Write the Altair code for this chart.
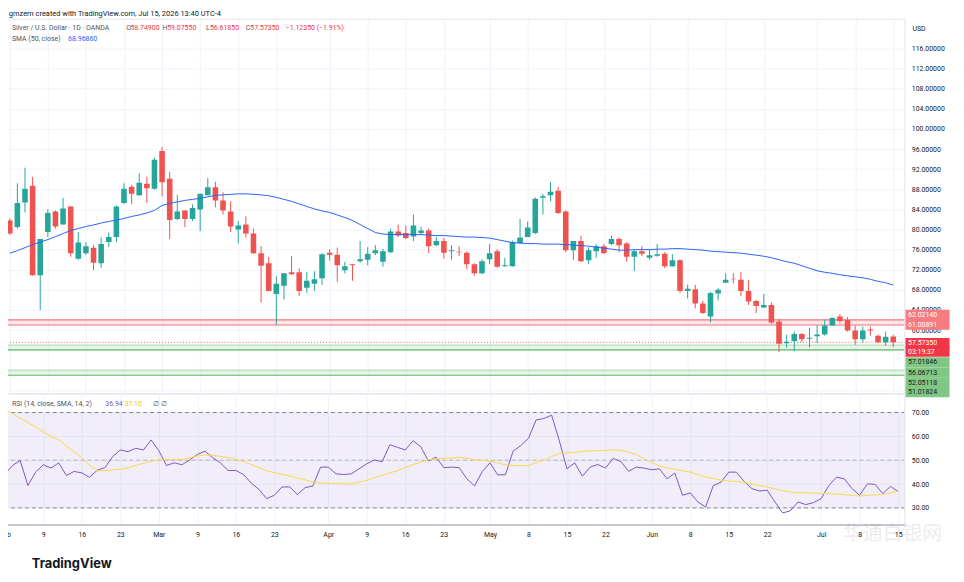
import json
import altair as alt
import numpy as np
import pandas as pd

# ---------------- data ----------------
opens = [81.8, 80.5, 85.4, 88.7, 70.9, 79.5, 83.6, 81.0, 84.6, 74.2,
         75.3, 76.4, 73.3, 77.5, 78.5, 85.3, 88.5, 86.8, 89.1, 88.1,
         95.6, 90.1, 82.1, 83.8, 82.1, 84.0, 86.8, 88.4, 85.8, 83.6,
         80.0, 81.0, 79.2, 75.3, 73.3, 67.2, 68.8, 71.5, 71.5, 68.4,
         69.2, 70.3, 75.4, 75.0, 71.9, 73.1, 73.7, 74.0, 75.3, 73.6,
         75.5, 79.6, 79.3, 78.6, 79.3, 79.8, 76.9, 77.7, 75.7, 75.6,
         75.4, 73.1, 71.3, 74.1, 75.7, 72.7, 72.7, 77.3, 78.5, 79.3,
         86.3, 86.8, 87.7, 83.6, 75.9, 77.7, 73.9, 75.7, 76.7, 77.1,
         78.1, 77.2, 74.6, 75.7, 74.4, 74.8, 75.2, 72.7, 73.9, 67.8,
         68.1, 65.3, 62.7, 67.3, 69.4, 70.2, 70.0, 67.8, 65.8, 64.5,
         65.0, 61.7, 57.4, 57.8, 59.2, 58.3, 58.8, 59.1, 60.9, 62.7,
         62.0, 59.9, 58.2, 60.1, 58.9, 57.6, 58.749]
highs = [82.2, 89.2, 92.3, 90.5, 78.1, 84.0, 83.8, 86.3, 84.6, 79.5,
         77.5, 76.9, 78.4, 79.4, 84.8, 89.2, 88.9, 91.2, 90.5, 94.3,
         96.4, 91.5, 86.9, 83.8, 85.0, 87.1, 90.2, 89.5, 87.4, 85.6,
         81.7, 82.6, 80.2, 76.7, 74.6, 70.7, 71.3, 74.7, 72.3, 71.6,
         71.7, 75.3, 76.1, 76.4, 73.6, 73.1, 77.7, 76.5, 76.9, 76.1,
         80.2, 81.0, 80.8, 83.0, 80.6, 80.2, 78.6, 78.4, 76.9, 76.7,
         75.7, 73.3, 74.1, 77.1, 76.1, 74.4, 77.8, 82.1, 81.6, 86.4,
         87.1, 89.5, 88.5, 83.8, 77.7, 78.8, 76.5, 77.1, 77.1, 78.8,
         78.5, 77.5, 76.0, 76.7, 76.0, 77.1, 75.5, 75.1, 74.1, 69.0,
         69.0, 65.8, 67.6, 68.4, 71.3, 71.3, 71.6, 70.0, 66.0, 67.2,
         65.5, 62.2, 59.1, 59.7, 59.4, 60.5, 60.9, 62.0, 62.5, 63.2,
         62.6, 60.9, 60.7, 60.7, 59.1, 59.7, 59.0755]
lows = [78.9, 80.2, 83.4, 70.8, 64.0, 78.5, 80.2, 81.0, 74.6, 74.0,
        74.9, 71.9, 72.4, 76.5, 77.5, 85.1, 85.1, 86.7, 85.3, 87.9,
        86.6, 78.1, 81.9, 80.5, 81.7, 79.7, 86.8, 84.4, 83.0, 79.5,
        77.2, 78.4, 75.2, 65.5, 67.8, 61.1, 66.1, 71.0, 66.8, 67.4,
        67.8, 69.0, 73.8, 69.6, 71.3, 69.8, 73.4, 72.9, 74.9, 72.6,
        75.3, 78.5, 78.1, 77.7, 79.1, 75.3, 76.7, 74.2, 74.0, 74.7,
        72.1, 70.8, 71.1, 73.1, 72.4, 72.6, 72.6, 77.1, 78.5, 79.1,
        83.0, 85.6, 83.1, 75.5, 73.9, 73.6, 73.1, 74.4, 75.2, 76.9,
        75.5, 73.6, 71.8, 74.7, 74.0, 74.6, 72.3, 72.6, 67.4, 66.3,
        64.3, 63.2, 61.5, 65.9, 69.4, 69.3, 66.8, 65.0, 63.4, 64.4,
        61.3, 55.6, 56.5, 55.8, 57.6, 56.6, 57.4, 58.9, 60.9, 61.4,
        59.7, 57.1, 57.6, 58.9, 57.4, 56.9, 56.6185]
closes = [79.2, 85.3, 88.1, 70.9, 78.1, 83.3, 80.6, 84.2, 75.3, 77.4,
          76.7, 73.4, 77.1, 78.5, 84.6, 88.1, 87.1, 89.3, 88.2, 93.9,
          89.4, 81.9, 83.6, 82.1, 84.3, 87.1, 88.4, 85.8, 83.8, 80.6,
          80.8, 79.2, 75.3, 72.8, 67.8, 69.2, 71.3, 71.1, 67.8, 69.8,
          70.1, 75.1, 75.0, 72.9, 72.7, 72.9, 74.1, 75.2, 75.9, 75.7,
          79.6, 78.8, 78.3, 80.8, 79.8, 76.7, 77.7, 75.4, 75.9, 75.5,
          73.1, 71.3, 73.7, 75.3, 72.6, 72.9, 77.5, 78.4, 80.4, 86.1,
          86.6, 87.5, 83.3, 75.9, 77.7, 73.7, 75.9, 76.7, 75.3, 78.1,
          76.9, 74.6, 75.7, 75.2, 74.9, 75.1, 72.7, 73.9, 67.8, 68.2,
          65.3, 63.4, 67.4, 68.0, 70.0, 70.1, 67.8, 65.7, 64.8, 65.0,
          61.5, 57.3, 57.7, 59.2, 58.2, 58.5, 59.1, 60.9, 62.4, 61.8,
          59.9, 58.2, 59.9, 59.9, 57.6, 58.7, 57.5735]
sma50 = [75.3, 75.8, 76.4, 77.0, 77.5, 78.0, 78.6, 79.2, 79.8, 80.2,
         80.6, 80.9, 81.3, 81.6, 81.9, 82.2, 82.6, 82.9, 83.3, 83.8,
         84.8, 85.2, 85.5, 85.8, 86.0, 86.2, 86.5, 86.8, 86.9, 87.0,
         87.1, 87.1, 87.0, 86.9, 86.7, 86.4, 86.0, 85.6, 85.1, 84.6,
         84.1, 83.7, 83.4, 82.9, 82.4, 81.8, 81.0, 80.2, 79.4, 79.1,
         79.0, 79.0, 79.0, 79.0, 79.0, 78.9, 78.8, 78.8, 78.7, 78.6,
         78.5, 78.5, 78.4, 78.3, 78.0, 77.7, 77.4, 77.3, 77.2, 77.2,
         77.1, 77.1, 77.1, 77.0, 76.9, 76.8, 76.7, 76.5, 76.3, 76.1,
         75.9, 75.9, 76.0, 76.0, 76.0, 76.1, 76.1, 76.2, 76.2, 76.1,
         76.0, 75.9, 75.7, 75.6, 75.5, 75.4, 75.3, 75.1, 74.9, 74.7,
         74.4, 74.0, 73.6, 73.3, 72.8, 72.3, 71.8, 71.5, 71.3, 71.0,
         70.8, 70.6, 70.4, 70.1, 69.7, 69.4, 68.97]
rsi14 = [44.0, 47.8, 49.9, 39.4, 45.0, 48.1, 46.7, 48.9, 43.6, 45.3,
         44.7, 42.8, 45.8, 46.9, 51.5, 54.3, 53.6, 55.0, 54.3, 58.5,
         54.0, 47.8, 48.9, 48.1, 50.1, 52.4, 53.8, 51.0, 48.9, 45.7,
         45.7, 44.0, 40.4, 37.8, 33.9, 35.3, 38.8, 38.8, 35.6, 38.5,
         39.2, 47.1, 47.1, 44.3, 44.0, 44.3, 46.4, 48.5, 50.1, 49.4,
         56.5, 55.4, 54.3, 58.2, 55.7, 49.7, 51.3, 46.9, 47.1, 46.9,
         42.2, 39.2, 45.3, 48.9, 43.9, 43.9, 53.8, 56.1, 59.2, 66.9,
         67.5, 68.9, 58.2, 46.4, 48.9, 43.3, 47.1, 48.2, 46.7, 50.8,
         49.4, 45.4, 47.1, 46.7, 46.0, 46.4, 42.2, 44.6, 35.3, 36.3,
         32.5, 30.4, 39.4, 40.8, 45.0, 45.0, 41.1, 38.1, 37.1, 37.4,
         32.5, 27.9, 28.8, 32.5, 31.4, 32.2, 33.9, 39.4, 42.9, 42.2,
         38.1, 35.3, 40.1, 39.9, 36.0, 39.0, 36.94]
rsi_ma = [71.5, 69.6, 67.6, 65.8, 63.9, 61.9, 60.0, 58.6, 56.0, 53.5,
          51.0, 48.0, 45.6, 45.6, 45.9, 46.3, 46.8, 47.8, 48.7, 49.6,
          50.1, 50.2, 50.3, 50.4, 51.0, 51.8, 52.2, 52.1, 51.6, 51.0,
          50.4, 49.4, 48.2, 46.9, 45.6, 44.8, 44.1, 43.4, 42.6, 41.8,
          40.9, 40.5, 40.3, 40.2, 40.1, 40.1, 40.8, 41.6, 42.6, 43.7,
          44.7, 45.6, 46.9, 48.1, 49.2, 50.2, 50.6, 50.8, 50.9, 51.2,
          50.8, 50.2, 50.0, 49.6, 48.9, 48.1, 47.8, 47.8, 47.8, 49.0,
          50.1, 51.6, 52.7, 53.1, 53.3, 53.7, 53.9, 54.0, 54.1, 54.4,
          54.2, 53.4, 52.4, 50.6, 49.1, 47.6, 46.7, 46.2, 45.6, 45.0,
          44.0, 43.0, 42.3, 41.6, 41.3, 41.1, 40.8, 40.1, 39.4, 38.7,
          38.0, 37.2, 36.7, 36.4, 36.3, 36.2, 36.1, 36.0, 35.8, 35.6,
          35.2, 35.0, 35.3, 35.5, 35.7, 36.3, 37.10]

tick_idx = [0, 5, 10, 15, 20, 25, 30, 35, 42, 47, 52, 57, 63, 68, 73, 78,
            84, 89, 94, 99, 106, 111, 116]
tick_text = ["Feb", "9", "16", "23", "Mar", "9", "16", "23", "Apr", "9", "16",
             "23", "May", "8", "15", "22", "Jun", "8", "15", "22", "Jul", "8", "15"]
price_ticks = [48, 52, 56, 60, 64, 68, 72, 76, 80, 84, 88, 92, 96, 100, 104,
               108, 112, 116]
rsi_ticks = [30, 40, 50, 60, 70]
rsi_levels = [70, 50, 30]

zone_lo = [61.00891, 56.06713, 51.01824]
zone_hi = [62.02140, 57.01846, 52.05118]
zone_kind = ["resist", "support", "support"]
last_close = 57.57350

label_text = ["62.02140", "61.00891", "57.57350", "03:19:37",
              "57.01846", "56.06713", "52.05118", "51.01824"]
label_price = [62.02140, 61.00891, 57.57350, 57.57350,
               57.01846, 56.06713, 52.05118, 51.01824]

# ---------------- styling ----------------
UP, DOWN = "#26A69A", "#EF5350"
W, H1, H2 = 906, 377, 132
FONT = "Roboto"
label_shift = [-5.1, -0.3, 0.7, 9.3, 17.3, 23.0, 12.7, 17.0]
label_bg = ["#F77C80", "#F77C80", "#F23645", "#F23645",
            "#81C784", "#81C784", "#81C784", "#81C784"]
label_fg = ["#FFFFFF", "#FFFFFF", "#FFFFFF", "#FFFFFF",
            "#131722", "#131722", "#131722", "#131722"]
zone_fill_col = {"resist": "#F23645", "support": "#4CAF50"}
zone_low_col = {"resist": "#F2737C", "support": "#5DB761"}
zone_high_col = {"resist": "#F2737C", "support": "#B9DFBB"}

n = len(opens)
df = pd.DataFrame({
    "idx": list(range(n)), "open": opens, "high": highs, "low": lows,
    "close": closes, "sma": sma50, "rsi": rsi14, "rsima": rsi_ma,
})
df["dir"] = np.where(df["close"] >= df["open"], "up", "down")

xs = alt.Scale(domain=[-0.1, 116.8], nice=False, zero=False)
ys1 = alt.Scale(domain=[47.42, 121.93], nice=False, zero=False)
ys2 = alt.Scale(domain=[23.04, 78.04], nice=False, zero=False)

ax_x_main = alt.Axis(values=tick_idx, labels=False, ticks=False, domain=False,
                     grid=True, title=None, zindex=0)
label_expr = f"{json.dumps(tick_text)}[indexof({json.dumps(tick_idx)}, datum.value)]"
ax_x_rsi = alt.Axis(values=tick_idx, labelExpr=label_expr, ticks=False, domain=True,
                    grid=True, title=None, labelPadding=6.5, labelFontSize=7,
                    labelFont=FONT, labelColor="#131722", domainColor="#9A9DA6",
                    labelFlush=False, labelOverlap=False, zindex=0)
# labels below 58 are covered by the price-label boxes in the reference
ax_y_main = alt.Axis(orient="right", values=price_ticks, format=".5f", ticks=False,
                     domain=False, grid=True, labelFontSize=7, labelFont=FONT,
                     labelColor="#131722", labelPadding=7, title=None, zindex=0,
                     labelExpr="datum.value < 58 ? '' : datum.label")
ax_y_rsi = alt.Axis(orient="right", values=rsi_ticks, format=".2f", ticks=False,
                    domain=False, grid=True, labelFontSize=7, labelFont=FONT,
                    labelColor="#131722", labelPadding=7, title=None, zindex=0)


def X1(f="idx:Q"):
    return alt.X(f, scale=xs, axis=ax_x_main)


def X2(f="idx:Q"):
    return alt.X(f, scale=xs, axis=ax_x_rsi)


def Y1(f):
    return alt.Y(f, scale=ys1, axis=ax_y_main)


def Y2(f):
    return alt.Y(f, scale=ys2, axis=ax_y_rsi)


def txt(s, x, y, color, size=7, weight="normal", font=FONT, opacity=1.0):
    return alt.Chart(pd.DataFrame({"t": [s]})).mark_text(
        align="left", baseline="middle", fontSize=size, font=font, color=color,
        fontWeight=weight, opacity=opacity
    ).encode(text="t:N", x=alt.value(x), y=alt.value(y))


color_enc = alt.Color("dir:N", scale=alt.Scale(domain=["up", "down"], range=[UP, DOWN]),
                      legend=None)

base = alt.Chart(df)

zone_layers = []
for lo, hi, kind in zip(zone_lo, zone_hi, zone_kind):
    d = pd.DataFrame({"lo": [lo], "hi": [hi]})
    zone_layers.append(alt.Chart(d).mark_rect(opacity=0.12, color=zone_fill_col[kind]).encode(
        x=alt.value(0), x2=alt.value(W), y=Y1("lo:Q"), y2="hi:Q"))
    zone_layers.append(alt.Chart(d).mark_rule(strokeWidth=1.2, color=zone_low_col[kind]).encode(
        x=alt.value(0), x2=alt.value(W), y=Y1("lo:Q")))
    zone_layers.append(alt.Chart(d).mark_rule(strokeWidth=1.2, color=zone_high_col[kind]).encode(
        x=alt.value(0), x2=alt.value(W), y=Y1("hi:Q")))

last_line = alt.Chart(pd.DataFrame({"p": [last_close]})).mark_rule(
    color="#F23645", strokeDash=[1, 2], opacity=0.8).encode(
    x=alt.value(0), x2=alt.value(W), y=Y1("p:Q"))

wicks = base.mark_rule(strokeWidth=1, clip=True).encode(
    x=X1(), y=Y1("low:Q"), y2="high:Q", color=color_enc)
bodies = base.mark_bar(width=5.6, clip=True).encode(
    x=X1(), y=Y1("open:Q"), y2="close:Q", color=color_enc)
sma_line = base.mark_line(color="#2962FF", strokeWidth=1, clip=True).encode(
    x=X1(), y=Y1("sma:Q"))

label_layers = []
for t, p, s, bg, fg in zip(label_text, label_price, label_shift, label_bg, label_fg):
    d = pd.DataFrame({"p": [p], "t": [t]})
    label_layers.append(alt.Chart(d).mark_rule(strokeWidth=10.3, color=bg, yOffset=s).encode(
        y=Y1("p:Q"), x=alt.value(W + 1.2), x2=alt.value(W + 45.5)))
    label_layers.append(alt.Chart(d).mark_text(
        align="left", baseline="middle", fontSize=7, font=FONT, color=fg, dy=s).encode(
        y=Y1("p:Q"), x=alt.value(W + 3.7), text="t:N"))

GREY = "#50535E"
RED = "#F23645"
legend_main = [
    txt("gmzern created with TradingView.com, Jul 15, 2026 13:40 UTC-4", 4.8, -4.5,
        "#131722", size=7.5),
    txt("Silver / U.S. Dollar · 1D · OANDA", 7.9, 9, GREY),
    txt("O", 122.9, 9, GREY), txt("58.74900", 127.2, 9, RED),
    txt("H", 159.5, 9, GREY), txt("59.07550", 164.2, 9, RED),
    txt("L", 203.2, 9, GREY), txt("56.61850", 207.2, 9, RED),
    txt("C", 243.2, 9, GREY), txt("57.57350", 247.9, 9, RED),
    txt("\u22121.12350 (\u22121.91%)", 283.5, 9, RED),
    txt("SMA (50, close)", 7.9, 20, GREY), txt("68.96860", 64.5, 20, "#2962FF"),
    txt("USD", W + 8.2, 10, "#131722"),
]

main = alt.layer(*zone_layers, last_line, wicks, bodies, sma_line,
                 *label_layers, *legend_main).properties(width=W, height=H1)

# ---------------- RSI pane ----------------
band = alt.Chart(pd.DataFrame({"lo": [30], "hi": [70]})).mark_rect(
    color="#7E57C2", opacity=0.1).encode(
    x=alt.value(0), x2=alt.value(W), y=Y2("lo:Q"), y2="hi:Q")
levels = alt.Chart(pd.DataFrame({"lvl": rsi_levels, "op": [0.9, 0.45, 0.9]})).mark_rule(
    color="#787B86", strokeDash=[4, 3]).encode(
    x=alt.value(0), x2=alt.value(W), y=Y2("lvl:Q"), opacity=alt.Opacity("op:Q", scale=None))
rsi_line = base.mark_line(color="#7E57C2", strokeWidth=1, clip=True).encode(
    x=X2(), y=Y2("rsi:Q"))
rsima_line = base.mark_line(color="#F7D94C", strokeWidth=1, clip=True).encode(
    x=X2(), y=Y2("rsima:Q"))
legend_rsi = [
    txt("RSI (14, close, SMA, 14, 2)", 7.9, 11, GREY),
    txt("36.94", 101.9, 11, "#7E57C2"),
    txt("37.10", 121.2, 11, "#E9C21F"),
    txt("\u2205", 149.5, 11, GREY),
    txt("\u2205", 157.9, 11, GREY),
    txt("TradingView", 27.9, 171.5, "#131722", size=13, weight="bold", font="Inter"),
    txt("华通白银网", 844.2, 142, "#000000", size=20, font="Noto Sans CJK SC", opacity=0.07),
]
rsi = alt.layer(band, levels, rsi_line, rsima_line, *legend_rsi).properties(
    width=W, height=H2)

chart = alt.vconcat(main, rsi, spacing=0, bounds="flush").properties(
    padding={"left": -10, "top": 0, "right": 0, "bottom": 0}
).configure_view(stroke="#E0E3EB", strokeWidth=1).configure_axis(
    gridColor="#F0F3FA", gridWidth=1)

chart.save("out.html", embed_options={"renderer": "svg", "actions": False})
